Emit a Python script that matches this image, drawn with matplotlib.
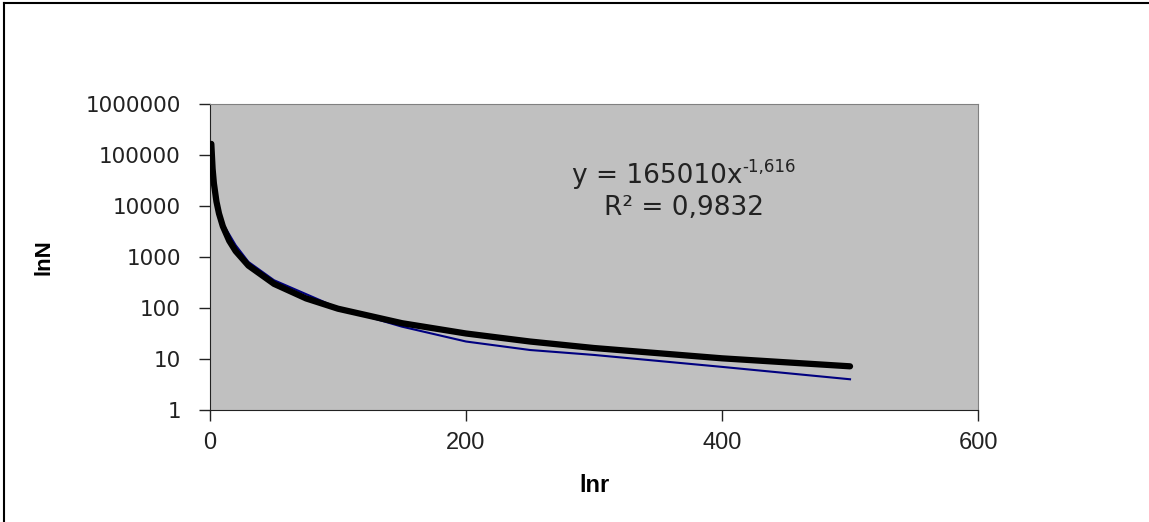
import matplotlib.pyplot as plt
from matplotlib.lines import Line2D

# measured series (blue, thin)
r_data = [1, 2, 3, 5, 10, 20, 30, 50, 100, 150, 200, 250, 300, 400, 500]
n_data = [165000, 50000, 25000, 11000, 4500, 1700, 800, 350, 100, 43, 22, 15, 12, 7, 4]

# power trend line (black, thick)
r_fit = [1, 2, 3, 5, 7, 10, 15, 20, 30, 50, 75, 100, 150, 200, 250, 300, 400, 500]
n_fit = [165010, 53800, 27950, 12240, 7107, 3995, 2075, 1304, 677, 297, 154, 96.7,
         50.3, 31.6, 22.0, 16.4, 10.3, 7.18]

xticks = [0, 200, 400, 600]
yticks = [1, 10, 100, 1000, 10000, 100000, 1000000]

fig = plt.figure(figsize=(11.49, 5.22), dpi=100)
ax = fig.add_axes([0.1828, 0.2146, 0.6684, 0.5862])
ax.set_facecolor('#C0C0C0')

ax.plot(r_data, n_data, color='#000080', linewidth=1.5, zorder=3)
ax.plot(r_fit, n_fit, color='black', linewidth=4.5, solid_capstyle='round', zorder=4)

ax.set_yscale('log')
ax.set_xlim(0, 600)
ax.set_ylim(1, 1000000)
ax.set_xticks(xticks)
ax.set_xticklabels([str(v) for v in xticks], family='Liberation Sans', fontsize=17)
ax.set_yticks(yticks)
ax.set_yticklabels([str(v) for v in yticks], family='DejaVu Sans', fontsize=15.5)
ax.minorticks_off()
ax.tick_params(axis='y', length=8, width=1, pad=13, colors='#222222')
ax.tick_params(axis='x', length=8, width=1, pad=8, colors='#222222')

for s in ['top', 'right']:
    ax.spines[s].set_color('#808080')
for s in ['left', 'bottom']:
    ax.spines[s].set_color('#222222')

ax.set_xlabel('lnr', family='Liberation Sans', fontsize=17, fontweight='bold', labelpad=14)
ax.set_ylabel('lnN', family='Liberation Sans', fontsize=16, fontweight='bold', labelpad=22)

t = ax.text(0.582, 0.765, 'y = 165010x', transform=ax.transAxes,
            ha='center', va='center', fontsize=19, family='DejaVu Sans', color='#222222')
ax.annotate('-1,616', xy=(1.0, 0.5), xycoords=t, ha='left', va='bottom',
            fontsize=12, family='DejaVu Sans', color='#222222')
ax.text(0.617, 0.66, 'R² = 0,9832', transform=ax.transAxes,
        ha='center', va='center', fontsize=19, family='DejaVu Sans', color='#222222')

# outer border (left and top only, as in the cropped screenshot)
fig.add_artist(Line2D([0.0035, 0.0035], [0, 0.995], transform=fig.transFigure, color='black', lw=1.5))
fig.add_artist(Line2D([0.0035, 1], [0.995, 0.995], transform=fig.transFigure, color='black', lw=1.5))

plt.savefig('out.png', dpi=100)
